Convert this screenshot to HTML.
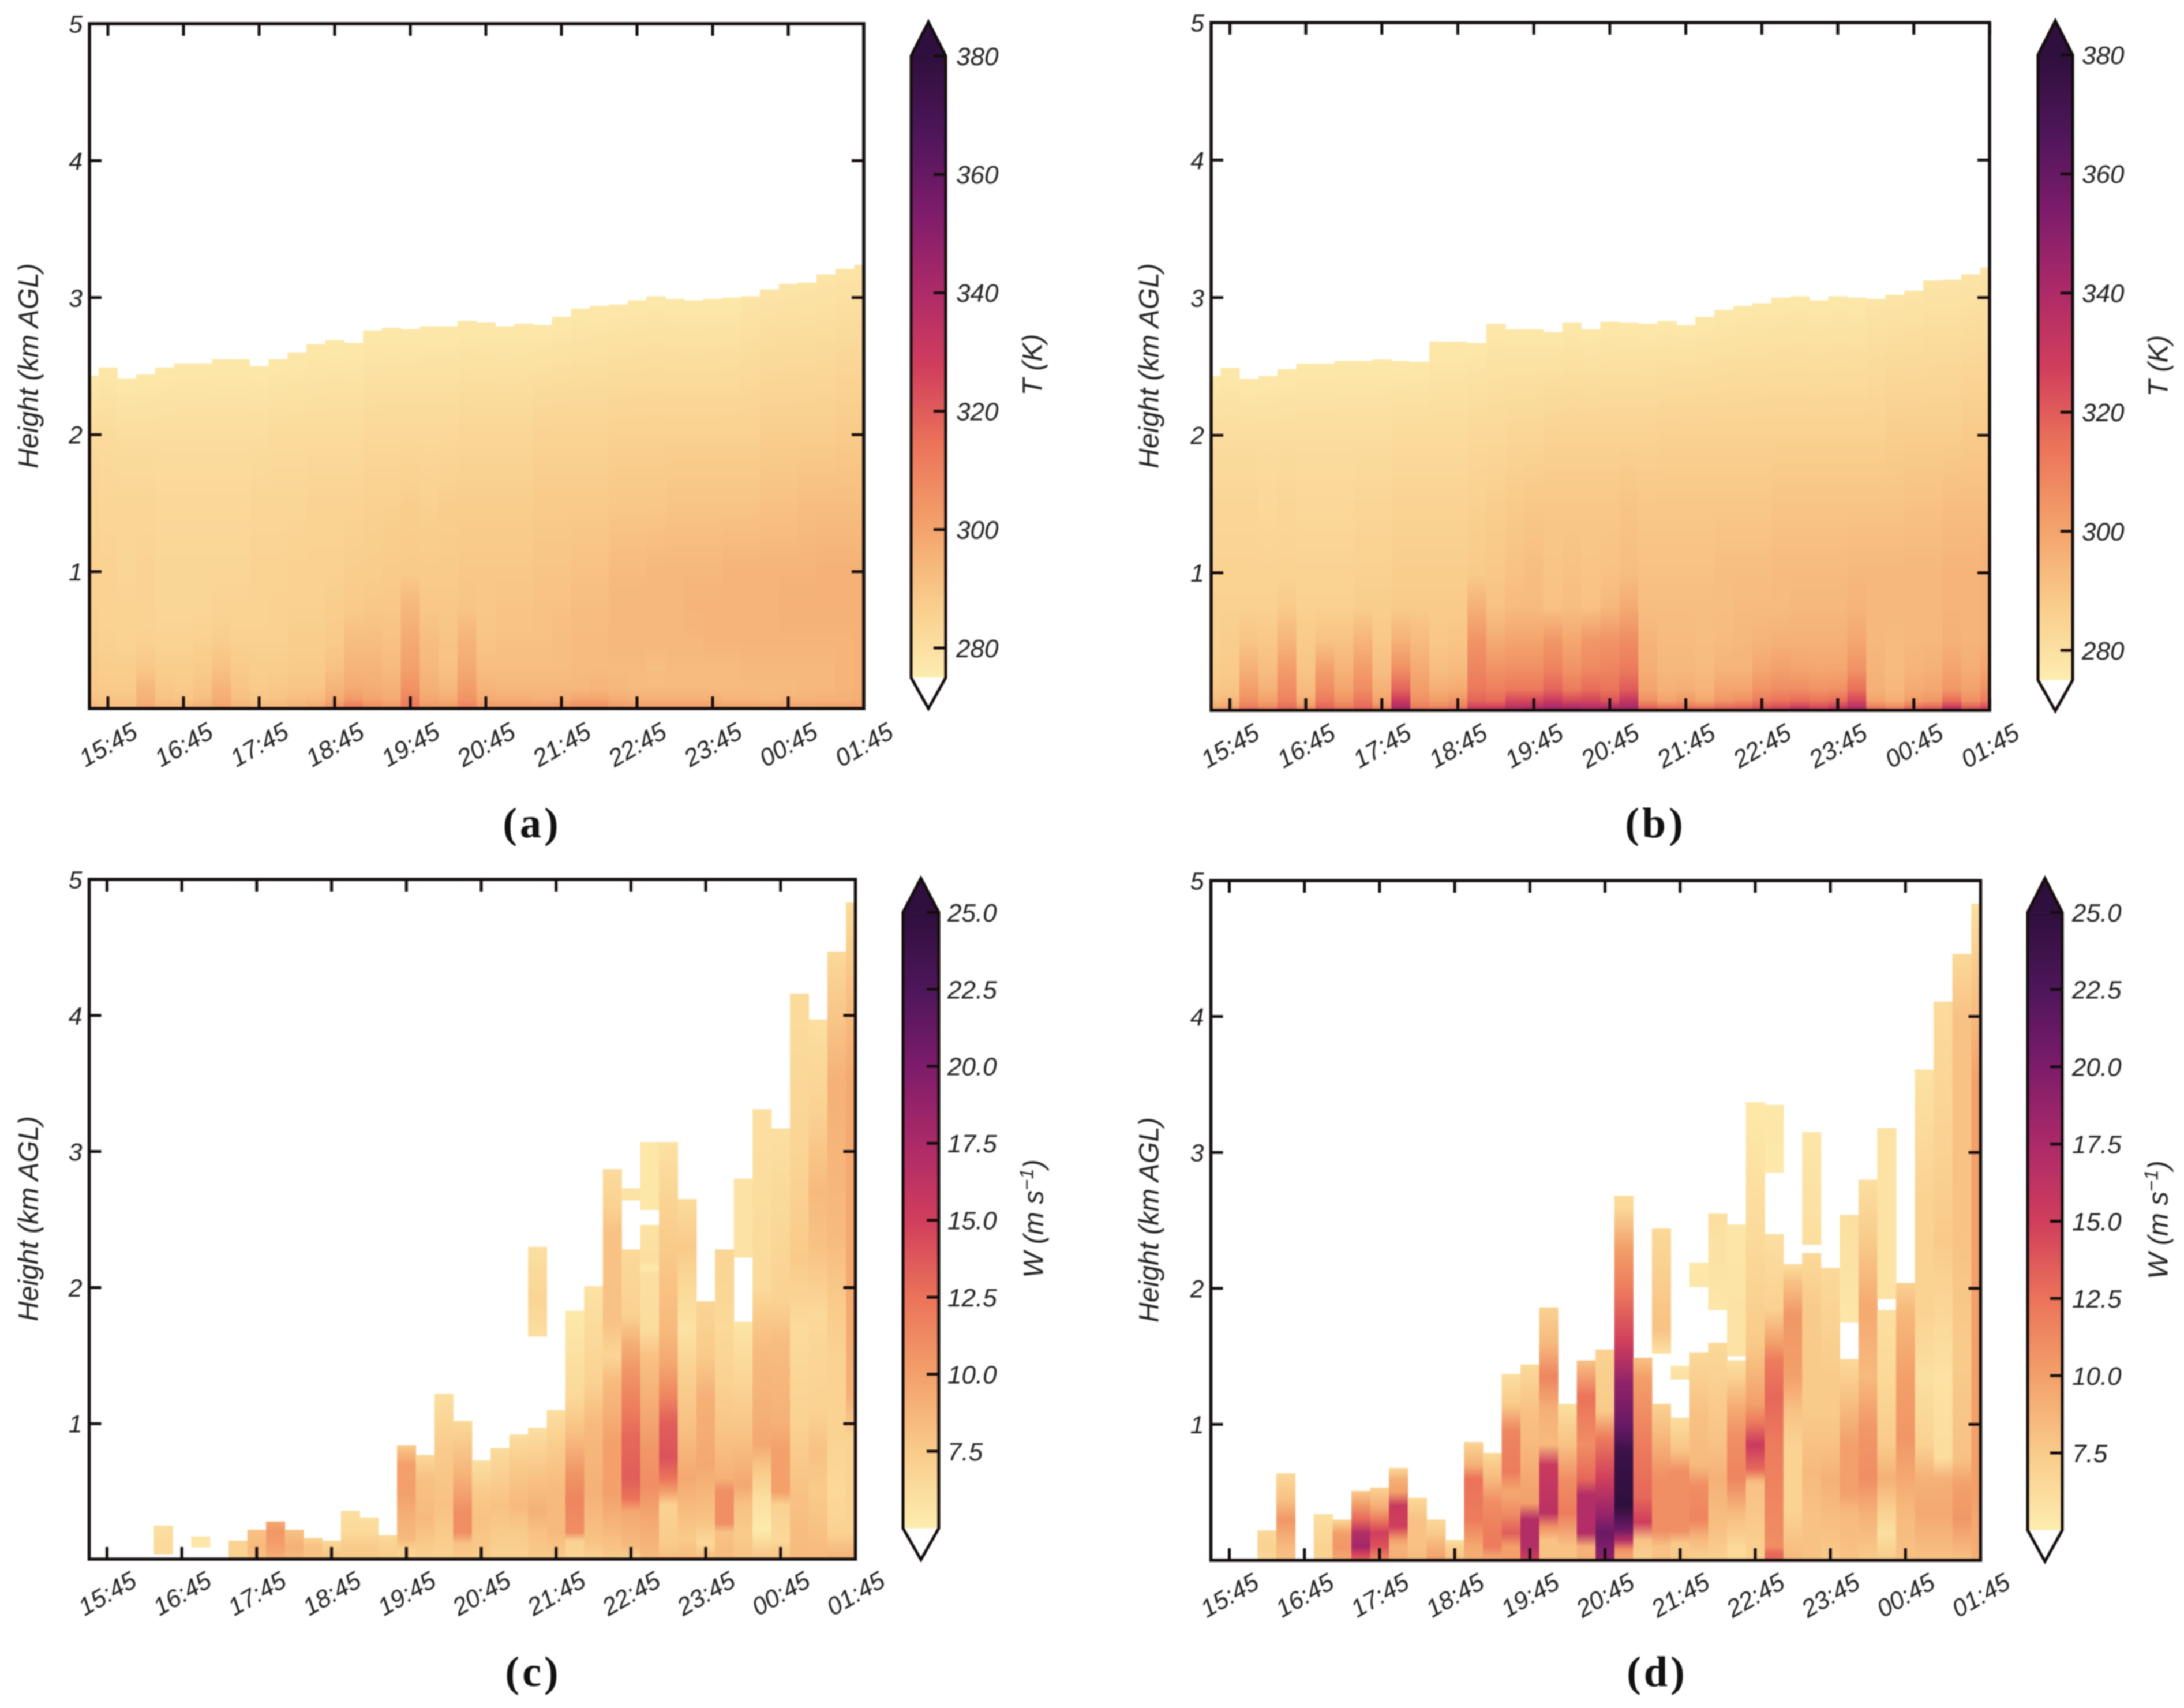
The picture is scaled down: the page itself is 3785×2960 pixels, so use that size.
<!DOCTYPE html>
<html lang="en">
<head>
<meta charset="utf-8">
<title>Temperature and vertical velocity time-height panels</title>
<style>
html,body{margin:0;padding:0;background:#fff;}
svg{display:block;filter:blur(1.1px);}
text{font-family:"Liberation Sans",Arial,sans-serif;fill:#222;}
.it{font-style:italic;}
.cap{font-family:"Liberation Serif","Times New Roman",serif;font-weight:bold;fill:#111;letter-spacing:5px;}
</style>
</head>
<body>
<svg id="fig" xmlns="http://www.w3.org/2000/svg" width="3785" height="2960" viewBox="0 0 3785 2960">
<rect x="0" y="0" width="3785" height="2960" fill="#fff"/>
<defs id="defs"></defs>
</svg>
<script>
const timeLabels=['15:45','16:45','17:45','18:45','19:45','20:45','21:45','22:45','23:45','00:45','01:45'];
const heightTicks=[1,2,3,4,5];
const tempTicks=[280,300,320,340,360,380];
const windTicks=[7.5,10,12.5,15,17.5,20,22.5,25];
const tempLevels=[0.02,0.07,0.15,0.3,0.5,0.75,1,1.5,2];

const topA=[2.43,2.49,2.41,2.44,2.49,2.52,2.52,2.55,2.55,2.50,2.55,2.60,2.66,2.69,2.67,2.76,2.78,2.77,2.79,2.79,2.83,2.82,2.79,2.81,2.80,2.86,2.92,2.94,2.95,2.98,3.01,2.99,2.98,2.99,3.00,3.01,3.06,3.10,3.11,3.17,3.21,3.24];
const topB=[2.43,2.49,2.41,2.43,2.48,2.52,2.52,2.54,2.54,2.55,2.54,2.535,2.68,2.68,2.67,2.81,2.77,2.77,2.75,2.82,2.77,2.825,2.82,2.81,2.83,2.80,2.86,2.91,2.94,2.96,3.00,3.01,2.98,3.01,3.00,2.99,3.02,3.05,3.125,3.13,3.17,3.22];

const tempA=[
[294,291,289,288,287,286,286,285,282,277],
[292,290,288,287,286,285,285,284,282,277],
[292,290,288,287,285,285,284,284,281,277],
[298,296,294,289,286,285,285,284,281,277],
[294,291,289,287,285,284,284,283,281,277],
[294,290,288,287,285,284,284,283,281,277],
[296,292,290,288,286,284,284,283,281,277],
[300,297,295,291,287,285,284,283,281,277],
[295,292,290,288,286,285,284,283,281,277],
[293,290,288,287,286,285,285,284,281,277],
[294,291,289,287,286,286,285,284,282,277],
[296,292,290,288,287,286,286,284,282,277],
[298,293,290,288,287,286,286,285,282,277],
[304,298,295,291,288,287,286,285,282,277],
[311,303,298,295,292,288,287,285,282,277],
[306,300,297,295,292,289,287,286,283,277],
[303,298,296,293,291,289,288,286,283,277],
[312,309,305,301,298,294,288,287,283,277],
[303,299,296,294,292,289,288,286,283,277],
[302,297,294,291,290,289,288,287,283,277],
[309,305,302,298,295,290,289,287,284,277],
[302,298,295,292,290,289,289,287,284,277],
[302,297,294,292,291,290,289,287,284,277],
[302,297,294,292,291,290,289,287,284,277],
[302,296,294,292,291,291,290,288,285,277],
[303,297,294,292,292,291,290,288,285,277],
[306,299,294,293,293,292,291,288,285,277],
[306,299,295,293,293,292,291,288,285,277],
[302,297,294,293,294,294,293,289,286,277],
[301,296,293,293,294,294,293,289,286,277],
[301,296,293,292,294,294,294,289,286,277],
[301,296,293,293,294,294,294,290,286,277],
[301,296,293,293,294,295,294,290,286,277],
[301,296,293,293,295,295,294,290,286,277],
[300,295,293,293,295,295,295,290,286,277],
[300,295,293,294,295,295,295,290,286,278],
[299,294,293,294,295,295,295,291,287,278],
[299,295,293,294,295,296,295,291,287,278],
[299,295,294,294,295,296,295,292,287,278],
[300,296,294,294,295,296,296,292,287,278],
[300,296,295,295,295,296,296,292,288,278],
[300,297,296,296,296,296,296,292,288,278]
];

const tempB=[
[298,293,289,287,286,286,285,284,281,277],
[300,294,290,288,287,286,285,284,281,277],
[313,306,302,296,290,286,285,284,281,277],
[308,301,296,292,289,286,285,283,281,277],
[316,310,307,302,295,288,285,284,281,277],
[305,297,293,290,288,286,285,283,281,277],
[318,312,307,301,291,286,285,283,281,277],
[312,305,300,295,291,286,285,283,281,277],
[317,313,307,302,295,287,286,284,281,277],
[308,300,296,292,289,287,286,284,281,277],
[340,330,318,306,296,288,287,285,282,277],
[312,306,302,298,293,288,287,285,282,277],
[309,302,297,292,289,288,287,285,282,277],
[312,305,298,293,290,288,287,285,282,277],
[328,318,313,309,305,296,288,286,283,277],
[328,316,311,305,298,291,289,287,283,277],
[336,325,313,306,300,293,291,288,284,277],
[338,325,313,306,300,293,292,289,284,277],
[342,330,318,310,304,291,290,289,285,277],
[340,325,312,305,299,292,291,289,285,277],
[338,326,316,308,304,291,290,289,285,277],
[340,322,314,309,305,294,291,289,285,277],
[342,332,320,312,307,298,292,290,285,277],
[318,306,300,297,295,292,291,289,285,277],
[315,300,296,294,293,292,291,289,286,277],
[315,303,297,294,293,292,291,289,286,277],
[314,299,295,293,292,292,291,289,286,277],
[317,304,300,295,293,292,292,289,286,277],
[318,306,300,295,294,293,292,289,286,277],
[322,312,305,299,295,293,292,289,286,277],
[325,314,307,301,296,293,293,290,286,277],
[330,316,307,300,296,294,293,290,286,277],
[325,314,305,299,296,294,293,290,286,277],
[330,316,306,299,296,294,293,290,286,277],
[338,325,315,305,299,295,294,290,286,277],
[312,300,296,295,294,294,294,290,286,278],
[308,297,294,293,293,294,294,290,287,278],
[316,302,298,295,294,294,294,291,287,278],
[318,304,299,296,294,294,294,291,287,278],
[332,316,304,300,296,295,295,292,287,278],
[320,306,301,297,295,295,295,292,288,278],
[325,312,306,300,296,296,296,292,288,278]
];

/* Vertical velocity: one entry per 15-min column; each column holds
   contiguous runs written as height(km), W(m/s), height, W ... */
const windC=[
[],[],[],[],
[[0.04,6.5,0.25,6]],
[],
[[0.09,5.5,0.17,5.5]],
[],
[[0,7,0.14,7]],
[[0,8,0.1,8.5,0.22,8]],
[[0,9,0.1,10,0.2,10.5,0.28,9.5]],
[[0,8.5,0.1,9,0.22,8]],
[[0,8,0.1,8,0.16,7]],
[[0,8,0.14,6.5]],
[[0,7.5,0.1,7.5,0.2,6.5,0.36,6]],
[[0,7.5,0.1,7.5,0.2,6.5,0.31,6]],
[[0,7.5,0.1,7,0.18,6.5]],
[[0,7,0.08,7,0.15,8.5,0.3,9,0.5,10,0.7,10,0.84,7.5]],
[[0,7,0.1,7.5,0.3,8.5,0.6,8,0.77,6.5]],
[[0,7,0.2,7.5,0.4,8,0.8,7.5,1.22,6]],
[[0,7.5,0.12,8,0.2,11,0.35,11,0.6,9,1.02,6.5]],
[[0,7.5,0.3,8,0.5,7.5,0.73,6]],
[[0,7,0.2,7.5,0.4,8,0.82,6.3]],
[[0,7,0.2,7.5,0.4,8.5,0.7,7.5,0.92,6]],
[[0,7.5,0.2,8,0.35,9,0.6,8,0.97,6],[1.64,6,1.9,6.8,2.3,6]],
[[0,7.5,0.2,8.5,0.5,8.5,0.8,7.5,1.1,6]],
[[0,7,0.14,7,0.2,11,0.45,11.5,0.65,10.5,0.95,8,1.2,6.5,1.83,5.3]],
[[0,7,0.15,8,0.5,9,1,8.5,1.3,7,2.01,5.8]],
[[0,7.5,0.2,8.5,0.5,10,0.85,10,1.1,9,1.3,8.5,1.5,6.8,1.75,8,2.4,8,2.6,7,2.87,6.3]],
[[0,7,0.1,8.5,0.35,9.5,0.45,12.5,0.6,13.5,0.9,13,1.1,12,1.4,10.5,1.6,9,1.8,7,2.28,6.5],[2.64,5.7,2.73,5.7]],
[[0,8.5,0.3,9.5,0.55,11,0.8,10.5,1.2,9,1.5,8,1.7,6.2,2.1,6,2.14,5.2,2.2,6,2.46,5.8],[2.57,5.5,3.07,5.5]],
[[0,8.5,0.1,7.5,0.4,7,0.5,10,0.6,12.5,0.75,14,1,13.5,1.2,11.5,1.45,9.5,1.7,8.5,2.3,7.5,2.6,7,3.07,5.8]],
[[0,8.5,0.15,7.5,0.4,8.5,0.6,9.5,1,8,1.4,7,1.7,5.8,2,6.5,2.3,7.5,2.65,6.3]],
[[0,8.5,0.12,6.5,0.3,8,0.7,9.5,1.2,9,1.5,7.5,1.9,6.8]],
[[0,8.5,0.2,8,0.27,11,0.5,11,0.6,9,0.9,8,1.3,7,1.7,6.5,2.28,6.8]],
[[0,8,0.2,7.5,0.4,8,0.55,9.5,0.9,8,1.3,6.8,1.75,5.6],[2.22,5.8,2.8,5.8]],
[[0,8,0.1,6.8,0.22,5.2,0.45,6,0.65,7.5,0.85,9.5,1.1,9,1.5,8.5,1.8,7.5,2,6.3,3.31,6]],
[[0,8,0.15,6.5,0.4,7,0.5,10,0.8,10,1,9,1.6,8.3,1.9,7,3.17,6]],
[[0,8.5,0.5,8,1,7,1.7,6.3,2.2,7.5,3,6.8,4.16,6.3]],
[[0,8.5,0.5,7.5,0.8,8,1.1,7,1.8,6.5,2.3,8,2.7,8.5,3.3,7,3.97,6]],
[[0,9,0.2,7,0.5,6.5,1,7,1.5,7,1.9,7.5,2.4,8.5,3.5,9,4.47,6.5]],
[[0,9,0.2,7,0.9,7,1.2,9,2,9.5,3.5,9.5,4,8.5,4.83,6.3]]
];

const windD=[
[],[],[],
[[0,6.5,0.1,7,0.22,6.5]],
[[0,8,0.1,8.5,0.3,10.5,0.45,8,0.64,6.5]],
[],
[[0,7,0.1,7,0.34,6]],
[[0,9.5,0.1,10.5,0.2,10,0.3,6.5]],
[[0,13,0.05,15,0.1,18,0.2,17,0.3,13,0.4,10.5,0.51,7.5]],
[[0,11,0.1,14,0.2,15,0.3,12,0.4,9,0.535,7]],
[[0,9,0.1,9,0.15,10,0.25,15,0.4,15.5,0.5,10,0.6,9,0.68,6.5]],
[[0,8.5,0.1,8,0.3,8,0.46,6.5]],
[[0,10,0.1,9,0.2,7.5,0.3,6.5]],
[[0,8,0.1,7,0.15,6]],
[[0,9,0.1,9.5,0.3,12,0.6,12.5,0.7,9,0.87,6.8]],
[[0,9,0.1,12,0.2,12,0.43,11,0.6,8.5,0.79,6.5]],
[[0,10,0.1,10,0.2,13.5,0.35,11,0.5,9.5,0.65,12,0.95,11.5,1.15,7.5,1.37,6]],
[[0,15,0.1,17,0.3,17,0.42,10,0.6,9.5,0.85,8.5,1.1,8,1.44,6.5]],
[[0,8,0.15,8,0.25,11,0.35,16.5,0.7,15.5,0.85,8.5,1.1,9,1.35,11.5,1.6,8.5,1.86,7]],
[[0,8,0.1,8,0.35,12,0.6,11,0.85,8,1.15,6]],
[[0,9,0.1,9,0.2,17,0.48,17,0.6,13,0.85,11,1.2,12.5,1.47,8]],
[[0,19,0.2,21,0.35,18.5,0.6,15,0.9,12,1.1,7.5,1.55,7]],
[[0,9,0.08,11,0.15,17,0.23,21,0.4,25,0.8,24,1,21,1.3,19,1.6,15,2,12,2.3,10,2.6,6.5,2.68,6.5]],
[[0,7,0.15,8,0.28,15,0.47,13,0.85,12,1.35,10,1.49,8]],
[[0,8,0.1,8,0.22,11,0.6,11,0.85,9,1.15,7],[1.52,5.8,1.7,8,2.2,7,2.44,6.5]],
[[0,7.5,0.12,7.5,0.22,11,0.65,11,0.8,8,1.05,6],[1.33,6,1.43,5.5]],
[[0,7,0.15,8.5,0.3,11.5,0.55,11,0.7,8.5,1.1,8,1.53,6.5],[2.01,5.5,2.19,5.3]],
[[0,7,0.2,8,0.6,9,0.85,8,1.6,6.5],[1.84,5.5,2.55,6]],
[[0,6.5,0.1,6.5,0.35,8.5,0.6,11.5,0.9,11,1.1,9.5,1.35,7,1.47,6],[1.5,5.8,2.47,5.5]],
[[0,7,0.55,8,0.58,8.5,0.67,13,0.85,15.5,1.02,12,1.15,10,1.6,7.5,2.3,6.5,3.37,5.3]],
[[0,13,0.05,13,0.1,11,0.85,12,1.2,13,1.47,12,1.6,10,1.85,7,2.4,6],[2.85,5.3,3.35,5.5]],
[[0,8.5,0.35,7,0.85,7,1.1,8,1.35,10,1.8,10.5,2.05,8,2.18,6]],
[[0,8,0.35,8,0.65,8.5,1.1,7.5,1.85,7.5,2.26,6.5],[2.32,6,3.15,5.5]],
[[0,7.5,0.6,9,0.85,8,1.1,7.5,1.35,7.5,2.15,6.5]],
[[0,8,0.35,8.5,0.5,10,0.85,10,1.2,8,1.48,6.5],[1.75,5.5,2.54,6]],
[[0,7.5,0.35,9,0.6,11,0.97,10.5,1.35,8.5,1.85,9.5,2.35,7.5,2.8,6]],
[[0,7.5,0.2,6,0.35,7,0.6,9,0.85,7.5,1.35,6.5,1.84,6],[1.92,5.8,3.18,5.8]],
[[0,8,0.35,8.5,0.6,9.5,0.9,10.5,1.35,10,1.85,8.5,2.04,7]],
[[0,8,0.35,9.5,0.6,9,0.85,7,1.35,6,1.85,7,2.6,7,3.61,5.8]],
[[0,8,0.35,9.5,0.6,9,0.75,6.2,1.35,5.8,2.35,7.5,3,7,4.11,6.3]],
[[0,8,0.3,10.5,0.55,10,0.75,8,1.5,7.5,2.5,8,4,8,4.46,6.5]],
[[0,9,0.5,10,1,10,2,10,3.5,10,4,8.5,4.83,6]]
];

const colormap=[[253,237,176],[249,203,138],[243,160,106],[235,115,90],[208,62,92],[172,42,105],[125,28,107],[78,22,90],[47,15,61]];

const NS='http://www.w3.org/2000/svg';
const fig=document.getElementById('fig');
const defs=document.getElementById('defs');
let gradId=0;

function el(tag,attrs,parent){
  const e=document.createElementNS(NS,tag);
  for(const k in attrs){e.setAttribute(k,attrs[k]);}
  (parent||fig).appendChild(e);
  return e;
}
function rgb(t){
  const c=Math.max(0,Math.min(1,t))*(colormap.length-1);
  const i=Math.min(colormap.length-2,Math.floor(c));
  const f=c-i;
  const a=colormap[i],b=colormap[i+1];
  return 'rgb('+[0,1,2].map(function(k){return Math.round(a[k]+(b[k]-a[k])*f);}).join(',')+')';
}

function tempRuns(levels,values,top){
  const run=[];
  run.push(0,values[0]);
  levels.forEach(function(h,j){if(h<top){run.push(h,values[j]);}});
  run.push(top,values[values.length-1]);
  return [run];
}

function drawPanel(p){
  const g=el('g',{});
  
  
  const xTime=function(k){return p.x0+k*p.hour;};
  const xCol=function(i){return p.x0+(i-1)*p.hour/4;};
  const yH=function(h){return p.bottom-(h-0)*p.km;};
  const norm=function(v){return (v-p.vmin)/(p.vmax-p.vmin);};
  const yC=function(v){return p.cbTick0+(v-p.cbVal0)*p.cbScale;};

  const clipId='clip-'+p.id;
  const cp=el('clipPath',{id:clipId},defs);
  el('rect',{x:p.left,y:p.top,width:p.right-p.left,height:p.axBottom-p.top},cp);

  const cells=el('g',{'clip-path':'url(#'+clipId+')'},g);
  
  
  const w=p.hour/4;
  p.columns.forEach(function(runs,i){
    runs.forEach(function(run){
      const h0=run[0],h1=run[run.length-2];
      const id='g'+(gradId++);
      const lg=el('linearGradient',{id:id,gradientUnits:'userSpaceOnUse',x1:0,x2:0,y1:yH(h0),y2:yH(h1)},defs);
      for(let k=0;k<run.length;k+=2){
        el('stop',{offset:(run[k]-h0)/(h1-h0),'stop-color':rgb(norm(run[k+1]))},lg);
      }
      const r=el('rect',{x:xCol(i)-w/2,y:yH(h1),width:w+0.6,height:yH(h0)-yH(h1),fill:'url(#'+id+')'},cells);
      
      
    });
  });

  const frame=el('rect',{x:p.left,y:p.top,width:p.right-p.left,height:p.axBottom-p.top,fill:'none',stroke:'#140d0d','stroke-width':5.5},g);
  
  

  timeLabels.forEach(function(label,k){
    const x=xTime(k);
    const b=el('line',{x1:x,x2:x,y1:p.axBottom,y2:p.axBottom-21,stroke:'#140d0d','stroke-width':5},g);
    
    
    const t=el('line',{x1:x,x2:x,y1:p.top,y2:p.top+21,stroke:'#140d0d','stroke-width':5},g);
    
    
    const tx=el('text',{class:'it','font-size':43,'text-anchor':'middle',dy:'.36em',transform:'translate('+x+' '+p.xLabelY+') rotate(-30)'},g);
    
    
    tx.textContent=label;
  });
  heightTicks.forEach(function(v){
    const y=yH(v);
    if(v<5){
      const a=el('line',{x1:p.left,x2:p.left+21,y1:y,y2:y,stroke:'#140d0d','stroke-width':5},g);
      
      
      const c=el('line',{x1:p.right,x2:p.right-21,y1:y,y2:y,stroke:'#140d0d','stroke-width':5},g);
      
      
    }
    const t=el('text',{class:'it','font-size':43,'text-anchor':'end',x:p.left-12,y:y,dy:'.36em'},g);
    
    
    t.textContent=String(v);
  });
  const yl=el('text',{class:'it','font-size':48,'text-anchor':'middle',dy:'.36em',transform:'translate('+p.yLabelX+' '+p.yLabelY+') rotate(-90)'},g);
  
  
  yl.textContent='Height (km AGL)';

  /* colour bar */
  const cb=el('g',{},g);
  
  
  const cid='cb-'+p.id;
  const yMax=yC(p.vmax),yMin=yC(p.vmin);
  const lg=el('linearGradient',{id:cid,gradientUnits:'userSpaceOnUse',x1:0,x2:0,y1:yMin,y2:yMax},defs);
  colormap.forEach(function(c,i){
    el('stop',{offset:i/(colormap.length-1),'stop-color':rgb(i/(colormap.length-1))},lg);
  });
  const cx=(p.cbL+p.cbR)/2;
  const body=el('rect',{x:p.cbL,y:yMax,width:p.cbR-p.cbL,height:yMin-yMax,fill:'url(#'+cid+')'},cb);
  
  
  const over=el('polygon',{points:p.cbL+','+yMax+' '+cx+','+p.cbTip+' '+p.cbR+','+yMax,fill:rgb(1)},cb);
  
  
  const under=el('polygon',{points:p.cbL+','+yMin+' '+cx+','+p.cbTail+' '+p.cbR+','+yMin,fill:'#fff'},cb);
  
  
  const outline=el('polygon',{points:[p.cbL+','+yMax,cx+','+p.cbTip,p.cbR+','+yMax,p.cbR+','+yMin,cx+','+p.cbTail,p.cbL+','+yMin].join(' '),fill:'none',stroke:'#140d0d','stroke-width':5,'stroke-linejoin':'miter'},cb);
  
  
  p.cbTicks.forEach(function(v){
    const y=yC(v);
    const t=el('line',{x1:p.cbR,x2:p.cbR-21,y1:y,y2:y,stroke:'#140d0d','stroke-width':5},cb);
    
    
    const l=el('text',{class:'it','font-size':44,x:p.cbLabelX,y:y,dy:'.36em'},cb);
    
    
    l.textContent=p.cbFormat(v);
  });
  const title=el('text',{class:'it','font-size':48,'text-anchor':'middle',dy:'.36em',transform:'translate('+p.cbTitleX+' '+p.cbTitleY+') rotate(-90)'},cb);
  
  
  if(p.wind){
    title.appendChild(document.createTextNode('W (m s'));
    const sup=el('tspan',{'font-size':33,dy:'-17'},title);
    sup.textContent='\u22121';
    const tail=el('tspan',{dy:'17'},title);
    tail.textContent=')';
  }else{
    title.textContent='T (K)';
  }
  const cap=el('text',{class:'cap','font-size':74,'text-anchor':'middle',x:p.capX,y:p.capY,dy:'.3em'},g);
  
  
  cap.textContent='('+p.id+')';
}

const fmtT=function(v){return String(v);};
const fmtW=function(v){return v.toFixed(1);};
const panelA={id:'a',left:155,right:1497,top:41,axBottom:1228,bottom:1228,km:237.4,x0:187,hour:131,
  columns:topA.map(function(t,i){return tempRuns(tempLevels,tempA[i],t);}),vmin:275,vmax:380,
  cbL:1579,cbR:1639,cbTip:38,cbTail:1228,cbTick0:1123,cbVal0:280,cbScale:-10.26,cbTicks:tempTicks,cbFormat:fmtT,cbLabelX:1657,cbTitleX:1788,cbTitleY:632,
  xLabelY:1290,yLabelX:48,yLabelY:634,capX:922,capY:1429,wind:false};
const panelB={id:'b',left:2099,right:3448,top:39,axBottom:1231,bottom:1231,km:238.4,x0:2131.4,hour:131.7,
  columns:topB.map(function(t,i){return tempRuns(tempLevels,tempB[i],t);}),vmin:275,vmax:380,
  cbL:3532,cbR:3592,cbTip:36,cbTail:1232,cbTick0:1127,cbVal0:280,cbScale:-10.32,cbTicks:tempTicks,cbFormat:fmtT,cbLabelX:3608,cbTitleX:3739,cbTitleY:634,
  xLabelY:1292,yLabelX:1990,yLabelY:634,capX:2869,capY:1429,wind:false};
const panelC={id:'c',left:154.5,right:1482.5,top:1524,axBottom:2702,bottom:2703,km:235.8,x0:185.5,hour:129.7,
  columns:windC,vmin:5,vmax:25,
  cbL:1565,cbR:1627,cbTip:1522,cbTail:2703,cbTick0:2515,cbVal0:7.5,cbScale:-53.37,cbTicks:windTicks,cbFormat:fmtW,cbLabelX:1642,cbTitleX:1790,cbTitleY:2112,
  xLabelY:2761,yLabelX:48,yLabelY:2112,capX:924,capY:2900,wind:true};
const panelD={id:'d',left:2098.5,right:3432.5,top:1526,axBottom:2704,bottom:2704,km:235.6,x0:2130.5,hour:130.2,
  columns:windD,vmin:5,vmax:25,
  cbL:3514,cbR:3574,cbTip:1522,cbTail:2706,cbTick0:2518,cbVal0:7.5,cbScale:-53.54,cbTicks:windTicks,cbFormat:fmtW,cbLabelX:3591,cbTitleX:3739,cbTitleY:2114,
  xLabelY:2764,yLabelX:1990,yLabelY:2114,capX:2872,capY:2900,wind:true};
[panelA,panelB,panelC,panelD].forEach(drawPanel);
</script>
</body>
</html>
